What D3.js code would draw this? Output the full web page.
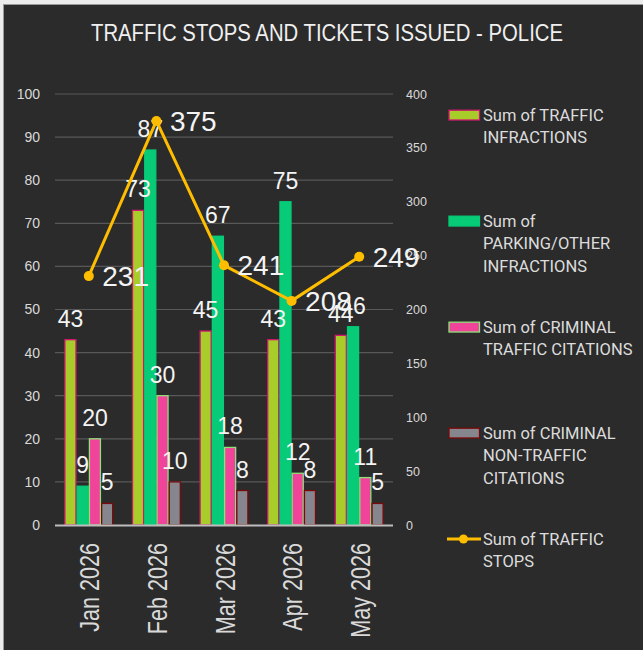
<!DOCTYPE html>
<html>
<head>
<meta charset="utf-8">
<script src="https://cdn.jsdelivr.net/npm/d3@7"></script>
<style>
  html, body { margin: 0; padding: 0; background: #ececec; }
  svg { display: block; }
</style>
</head>
<body>
<svg id="chart" width="643" height="650"></svg>
<script>
// ---- data ----
const title = "TRAFFIC STOPS AND TICKETS ISSUED - POLICE";
const months = ["Jan 2026", "Feb 2026", "Mar 2026", "Apr 2026", "May 2026"];
const seriesNames = [
  "Sum of TRAFFIC INFRACTIONS",
  "Sum of PARKING/OTHER INFRACTIONS",
  "Sum of CRIMINAL TRAFFIC CITATIONS",
  "Sum of CRIMINAL NON-TRAFFIC CITATIONS"
];
const trafficInfractions = [43, 73, 45, 43, 44];
const parkingOther = [9, 87, 67, 75, 46];
const criminalTraffic = [20, 30, 18, 12, 11];
const criminalNonTraffic = [5, 10, 8, 8, 5];
const lineName = "Sum of TRAFFIC STOPS";
const trafficStops = [231, 375, 241, 208, 249];
const leftTicks = [0, 10, 20, 30, 40, 50, 60, 70, 80, 90, 100];
const rightTicks = [0, 50, 100, 150, 200, 250, 300, 350, 400];
const legendLines = [
  ["Sum of TRAFFIC", "INFRACTIONS"],
  ["Sum of", "PARKING/OTHER", "INFRACTIONS"],
  ["Sum of CRIMINAL", "TRAFFIC CITATIONS"],
  ["Sum of CRIMINAL", "NON-TRAFFIC", "CITATIONS"],
  ["Sum of TRAFFIC", "STOPS"]
];

// ---- styles ----
const fills = ["#a8cd2b", "#07cb77", "#f0449a", "#86868e"];
const strokes = ["#d0186e", "#07cb77", "#8fe07a", "#7a0a0a"];
const lineColor = "#ffbd00";

const barSeries = [trafficInfractions, parkingOther, criminalTraffic, criminalNonTraffic];

const svg = d3.select("#chart");

// background panel
svg.append("rect").attr("x", 3.5).attr("y", 4.5).attr("width", 645).attr("height", 650)
  .attr("fill", "#2b2b2b").attr("stroke", "#9a9a9a").attr("stroke-width", 1);

// title
svg.append("text").attr("x", 327).attr("y", 40.7)
  .attr("text-anchor", "middle")
  .attr("font-family", "'Liberation Sans Narrow', 'Liberation Sans', Arial, sans-serif")
  .attr("font-size", 23).attr("fill", "#f0f0f0")
  .attr("textLength", 472).attr("lengthAdjust", "spacingAndGlyphs")
  .text(title);

const plotL = 55, plotR = 393, plotT = 94, plotB = 525;

const x = d3.scaleBand().domain(months).range([plotL, plotR]).paddingInner(0).paddingOuter(0);
const x1 = d3.scaleBand().domain(d3.range(4)).range([0, x.bandwidth()]).paddingInner(0).paddingOuter(0.76);
const yL = d3.scaleLinear().domain([0, 100]).range([plotB, plotT]);
const yR = d3.scaleLinear().domain([0, 400]).range([plotB, plotT]);

// gridlines
svg.append("g").selectAll("line").data(leftTicks.filter(d => d > 0)).join("line")
  .attr("x1", plotL).attr("x2", plotR)
  .attr("y1", d => yL(d)).attr("y2", d => yL(d))
  .attr("stroke", "#585858").attr("stroke-width", 1.2);

// left axis
const axL = svg.append("g").attr("transform", `translate(${plotL},0)`)
  .call(d3.axisLeft(yL).tickValues(leftTicks).tickSize(0).tickPadding(15));
axL.select(".domain").remove();
axL.selectAll("text").attr("font-family", "'Liberation Sans', Arial, sans-serif")
  .attr("font-size", 14).attr("fill", "#d9d9d9");

// right axis
const axR = svg.append("g").attr("transform", `translate(${plotR},0)`)
  .call(d3.axisRight(yR).tickValues(rightTicks).tickSize(0).tickPadding(13));
axR.select(".domain").remove();
axR.selectAll("text").attr("font-family", "'Liberation Sans', Arial, sans-serif")
  .attr("font-size", 12.5).attr("fill", "#d9d9d9");

// bars
const groups = svg.append("g").selectAll("g").data(months).join("g")
  .attr("transform", d => `translate(${x(d)},0)`);
groups.selectAll("rect").data((m, i) => barSeries.map((s, k) => ({ k, v: s[i] }))).join("rect")
  .attr("x", d => x1(d.k) + 0.6)
  .attr("width", x1.bandwidth() - 1.2)
  .attr("y", d => yL(d.v))
  .attr("height", d => plotB - yL(d.v))
  .attr("fill", d => fills[d.k])
  .attr("stroke", d => strokes[d.k])
  .attr("stroke-width", 1.3);

// x axis baseline
svg.append("line").attr("x1", plotL).attr("x2", plotR).attr("y1", plotB + 0.5).attr("y2", plotB + 0.5)
  .attr("stroke", "#bdbdbd").attr("stroke-width", 1.8);

// x labels (condensed along the text direction)
svg.append("g").selectAll("text").data(months).join("text")
  .attr("transform", d => `translate(${x(d) + x.bandwidth() / 2 + 10.5},543) rotate(-90) scale(0.8,1)`)
  .attr("text-anchor", "end")
  .attr("font-family", "'Liberation Sans', Arial, sans-serif")
  .attr("font-size", 27).attr("fill", "#d9d9d9")
  .text(d => d);

// line
const pts = months.map((m, i) => ({ x: x(m) + x.bandwidth() / 2, y: yR(trafficStops[i]), v: trafficStops[i] }));
svg.append("path").datum(pts)
  .attr("d", d3.line().x(d => d.x).y(d => d.y))
  .attr("fill", "none").attr("stroke", lineColor).attr("stroke-width", 3).attr("stroke-linejoin", "round");
svg.append("g").selectAll("circle").data(pts).join("circle")
  .attr("cx", d => d.x).attr("cy", d => d.y).attr("r", 5).attr("fill", lineColor);

// bar labels
groups.selectAll("text").data((m, i) => barSeries.map((s, k) => ({ k, v: s[i] }))).join("text")
  .attr("x", d => x1(d.k) + x1.bandwidth() / 2)
  .attr("y", d => yL(d.v) - 13)
  .attr("text-anchor", "middle")
  .attr("font-family", "'Liberation Sans', Arial, sans-serif")
  .attr("font-size", 23).attr("fill", "#f4f4f4")
  .text(d => d.v);

// line labels
svg.append("g").selectAll("text").data(pts).join("text")
  .attr("x", d => d.x + 13.5).attr("y", d => d.y + 10)
  .attr("font-family", "'Liberation Sans', Arial, sans-serif")
  .attr("font-size", 28).attr("fill", "#f4f4f4")
  .text(d => d.v);

// legend
const legY0 = 115, legStep = 106, lineH = 22.5;
const leg = svg.append("g").selectAll("g").data(legendLines).join("g")
  .attr("transform", (d, i) => `translate(0,${legY0 + i * legStep})`);
leg.each(function (d, i) {
  const g = d3.select(this);
  if (i < 4) {
    g.append("rect").attr("x", 449).attr("y", -4.8).attr("width", 30.5).attr("height", 9.8)
      .attr("fill", fills[i]).attr("stroke", strokes[i]).attr("stroke-width", 1.3);
  } else {
    g.append("line").attr("x1", 447).attr("x2", 481).attr("y1", 0).attr("y2", 0)
      .attr("stroke", lineColor).attr("stroke-width", 3);
    g.append("circle").attr("cx", 463.5).attr("cy", 0).attr("r", 4.5).attr("fill", lineColor);
  }
  const t = g.append("text").attr("x", 483).attr("y", 5.8)
    .attr("font-family", "Roboto, 'Liberation Sans', sans-serif")
    .attr("font-size", 16.5).attr("fill", "#dcdcdc");
  d.forEach((ln, j) => {
    t.append("tspan").attr("x", 483).attr("y", 5.8 + j * lineH).text(ln);
  });
});
</script>
</body>
</html>
